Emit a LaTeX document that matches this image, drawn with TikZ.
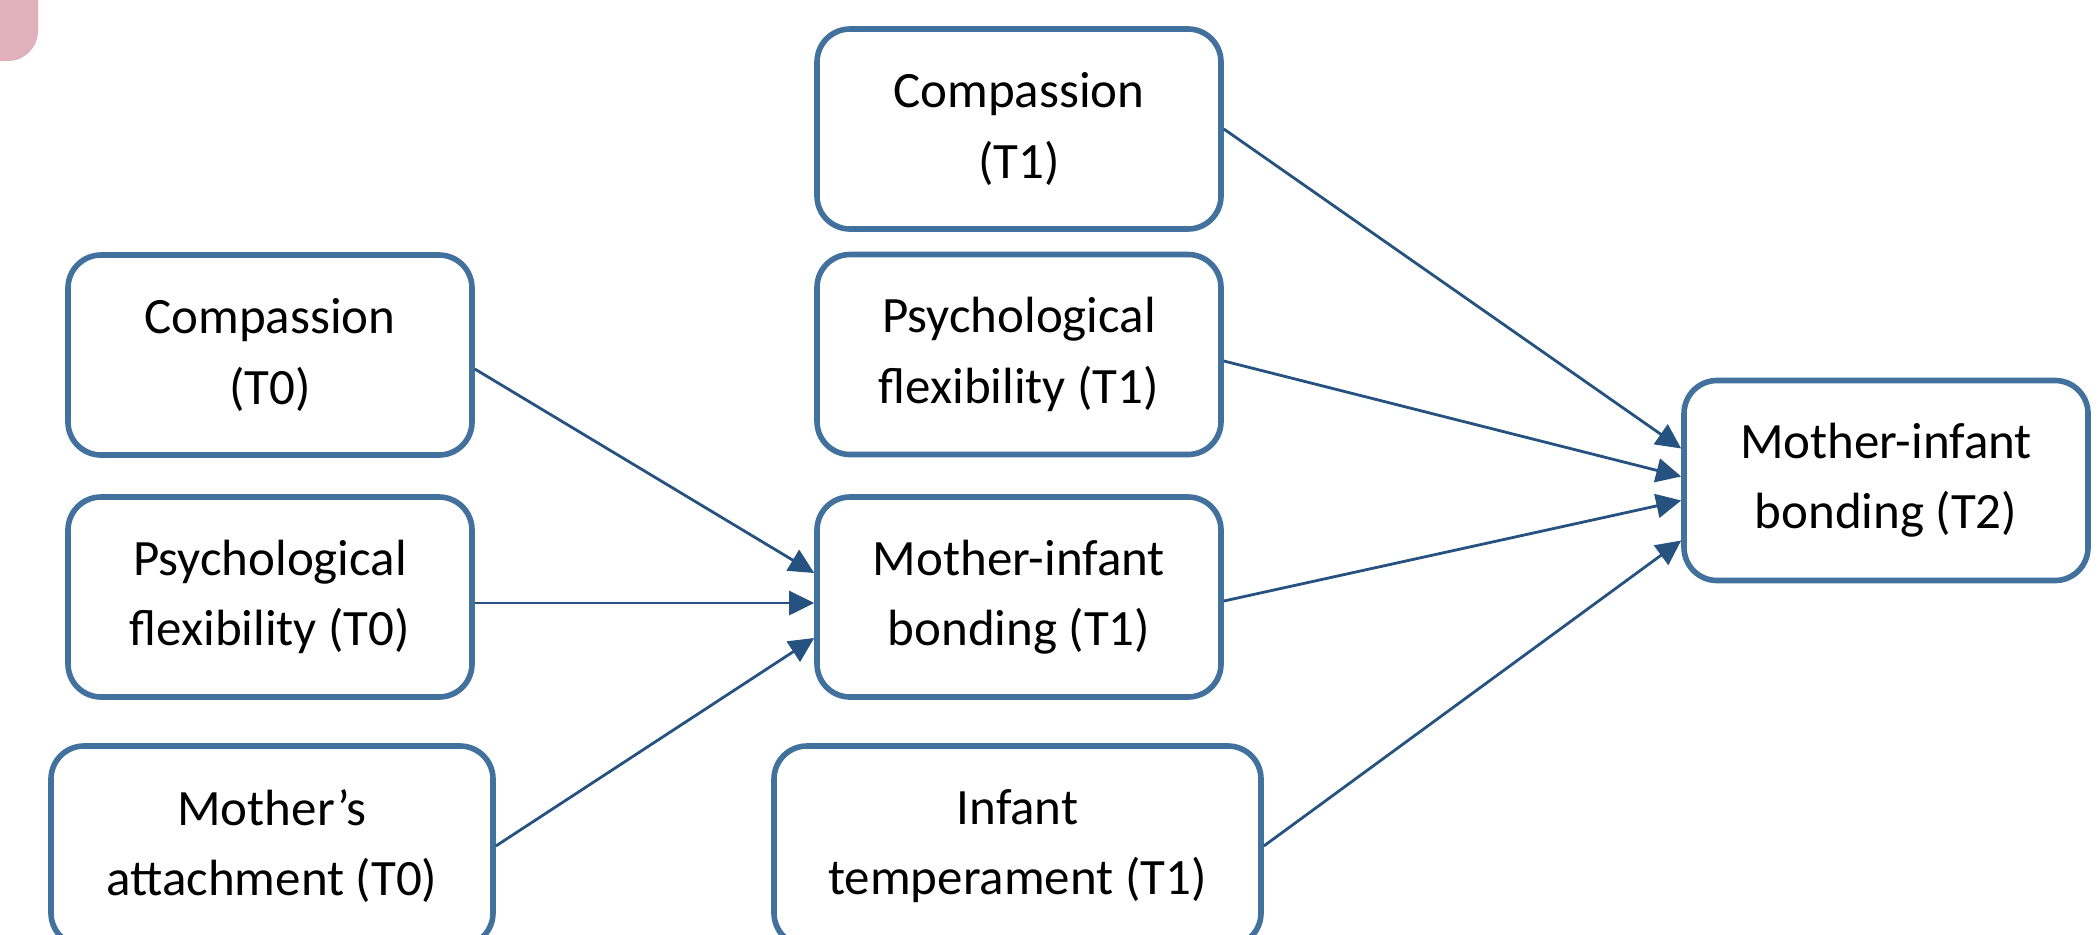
\documentclass[tikz,border=0pt]{standalone}
\usepackage{fontspec}
\setmainfont{Carlito}
\usetikzlibrary{arrows.meta}
\definecolor{boxBlue}{RGB}{65, 113, 156}
\definecolor{arrowBlue}{RGB}{38, 82, 128}
\definecolor{patchPink}{RGB}{225, 177, 187}

\tikzset{
	var/.style={draw=boxBlue, line width=1.6pt, rounded corners=0.33cm, fill=white,
		minimum width=4.04cm, minimum height=2cm, align=center,
		font=\fontsize{14.5}{20}\selectfont},
	path/.style={arrowBlue, line width=0.8pt, -{Triangle[length=0.25cm,width=0.24cm]}}
}

\begin{document}
\begin{tikzpicture}
			\useasboundingbox (0,0) rectangle (20.99,9.34);
			\clip (0,0) rectangle (20.99,9.34);
			\fill[patchPink, rounded corners=0.3cm] (-0.5,8.73) rectangle (0.38,9.9);

			\draw (2.70,5.79) node[var] (C0) {Compassion\\(T0)};
			\draw (2.70,3.37) node[var] (P0) {Psychological\\flexibility (T0)};
			\draw (2.72,0.88) node[var, minimum width=4.42cm] (A0) {Mother’s\\attachment (T0)};
			\draw (10.19,8.05) node[var] (C1) {Compassion\\(T1)};
			\draw (10.19,5.795) node[var] (P1) {Psychological\\flexibility (T1)};
			\draw (10.19,3.37) node[var] (B1) {Mother-infant\\bonding (T1)};
			\draw (10.175,0.88) node[var, minimum width=4.87cm] (I1) {Infant\\temperament (T1)};
			\draw (18.86,4.535) node[var] (B2) {Mother-infant\\bonding (T2)};

			\draw[path] ([yshift=-0.14cm]C0.east) -- ([yshift=0.24cm]B1.west);
			\draw[path] ([yshift=-0.06cm]P0.east) -- ([yshift=-0.06cm]B1.west);
			\draw[path] (A0.east) -- ([yshift=-0.41cm]B1.west);
			\draw[path] (C1.east) -- ([yshift=0.32cm]B2.west);
			\draw[path] ([yshift=-0.065cm]P1.east) -- ([yshift=0.04cm]B2.west);
			\draw[path] ([yshift=-0.04cm]B1.east) -- ([yshift=-0.2cm]B2.west);
			\draw[path] (I1.east) -- ([yshift=-0.6cm]B2.west);
		\end{tikzpicture}
\end{document}
